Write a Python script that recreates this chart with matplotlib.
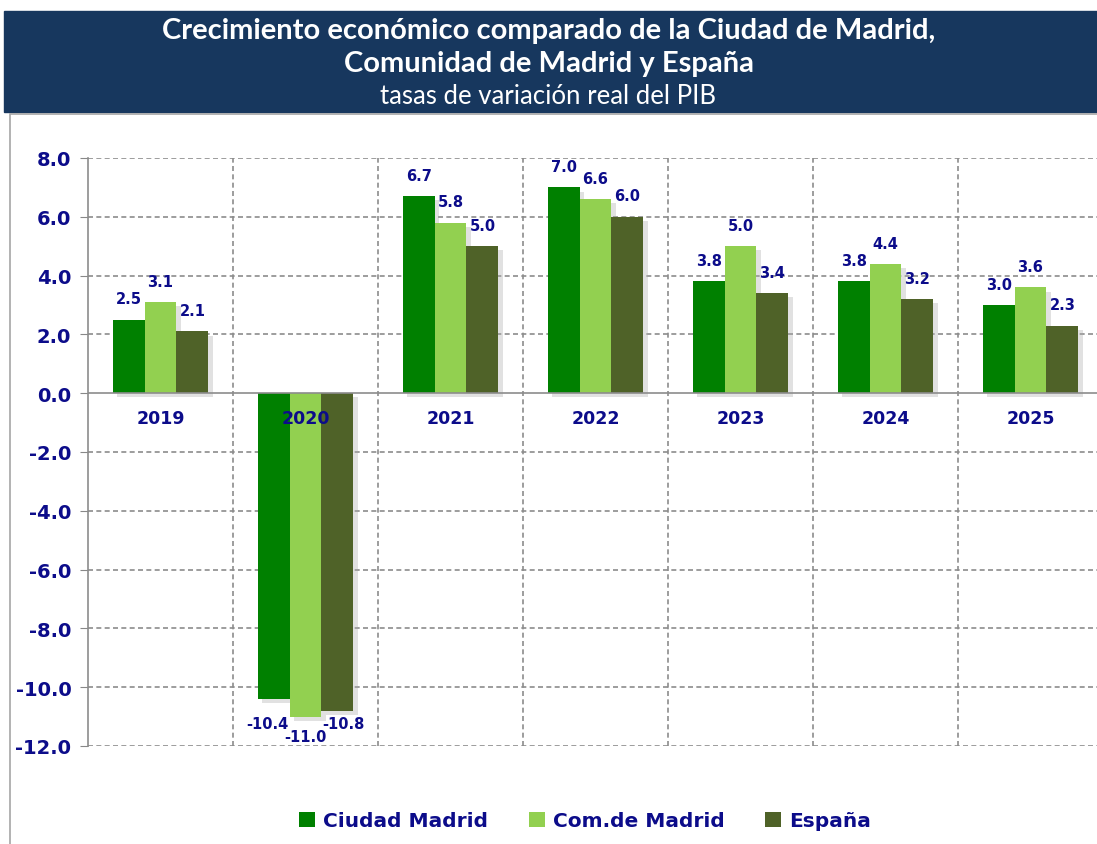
import matplotlib.pyplot as plt
import matplotlib.patheffects as pe
from matplotlib.patches import Rectangle
import numpy as np

# data
years = ["2019", "2020", "2021", "2022", "2023", "2024", "2025"]
ciudad = [2.5, -10.4, 6.7, 7.0, 3.8, 3.8, 3.0]
comunidad = [3.1, -11.0, 5.8, 6.6, 5.0, 4.4, 3.6]
espana = [2.1, -10.8, 5.0, 6.0, 3.4, 3.2, 2.3]
series_names = ["Ciudad Madrid", "Com.de Madrid", "España"]
colors = ["#008000", "#92D050", "#4F6228"]
navy = "#0C0C8A"

fig = plt.figure(figsize=(10.97, 8.45), dpi=100)

# title banner
fig.patches.append(Rectangle((4 / 1097, 1 - 113 / 845), 1, 101 / 845,
                             transform=fig.transFigure, color="#17375E", zorder=0))
fig.text(0.5, 1 - 31 / 845, "Crecimiento económico comparado de la Ciudad de Madrid,",
         ha="center", va="center", color="white", fontsize=21, fontweight="bold", family="Lato")
fig.text(0.5, 1 - 64 / 845, "Comunidad de Madrid y España",
         ha="center", va="center", color="white", fontsize=21, fontweight="bold", family="Lato")
fig.text(0.5, 1 - 97 / 845, "tasas de variación real del PIB",
         ha="center", va="center", color="white", fontsize=18.5, family="Lato")

# outer frame of the chart area
fig.patches.append(Rectangle((10 / 1097, -0.01), 1.0, 1 - 115 / 845 + 0.01,
                             transform=fig.transFigure, fill=False, edgecolor="#A6A6A6",
                             linewidth=1.2, zorder=0))

ax = fig.add_axes([88 / 1097, 1 - 747 / 845, 1015 / 1097, (747 - 159) / 845])
x = np.arange(len(years))
w = 0.22
shadow = [pe.SimplePatchShadow(offset=(3, -3), shadow_rgbFace="#AAAAAA", alpha=0.35), pe.Normal()]
all_vals = [ciudad, comunidad, espana]
for i, (vals, name, c) in enumerate(zip(all_vals, series_names, colors)):
    bars = ax.bar(x + (i - 1) * w, vals, w, color=c, label=name, zorder=3)
    for b in bars:
        b.set_path_effects(shadow)
    for j, (xi, v) in enumerate(zip(x + (i - 1) * w, vals)):
        if v >= 0:
            ax.annotate(f"{v:.1f}", (xi, v), xytext=(0, 15), textcoords="offset points",
                        ha="center", va="center", color=navy, fontsize=10.5, fontweight="bold")
        else:
            # negative labels sit below the lowest bar of the group, middle one staggered down
            low = min(s[j] for s in all_vals)
            dy = -14 if i == 1 else -5
            ax.annotate(f"{v:.1f}", (xi + (i - 1) * 0.04, low), xytext=(0, dy),
                        textcoords="offset points", ha="center", va="center", color=navy,
                        fontsize=10.5, fontweight="bold")

ax.set_xlim(-0.5, 6.5)
ax.set_ylim(-12, 8)
ax.set_yticks(np.arange(-12, 8.1, 2))
ax.set_yticklabels([f"{t:.1f}" for t in np.arange(-12, 8.1, 2)])
ax.tick_params(axis="y", length=6, color="#888888", labelcolor=navy, labelsize=14, pad=6)
for lab in ax.get_yticklabels():
    lab.set_fontweight("bold")

# category labels sit just below the zero line
ax.set_xticks([])
for xi, yr in zip(x, years):
    ax.annotate(yr, (xi, 0), xytext=(0, -18), textcoords="offset points", ha="center",
                va="center", color=navy, fontsize=12.5, fontweight="bold", zorder=5)

ax.grid(False)
for yv in np.arange(-12, 8.1, 2):
    if yv != 0:
        ax.axhline(yv, color="#8C8C8C", linestyle=(0, (3, 2)), linewidth=1.2, zorder=1)
for xv in np.arange(0.5, 6.5, 1):
    ax.axvline(xv, color="#8C8C8C", linestyle=(0, (3, 2)), linewidth=1.2, zorder=1)
ax.axhline(0, color="#8C8C8C", linewidth=1.2, zorder=4)
for s in ["top", "right", "bottom"]:
    ax.spines[s].set_visible(False)
ax.spines["left"].set_color("#8C8C8C")
ax.spines["left"].set_linewidth(1.2)

leg = fig.legend(loc="center", bbox_to_anchor=(585 / 1097, 1 - 822 / 845), ncol=3, frameon=False,
                 handlelength=0.8, handleheight=0.8, columnspacing=2.0, handletextpad=0.4,
                 prop={"size": 14.5, "weight": "bold"}, labelcolor=navy)
for h in leg.legend_handles:
    h.set_path_effects([])

fig.savefig("out.png", dpi=100)
